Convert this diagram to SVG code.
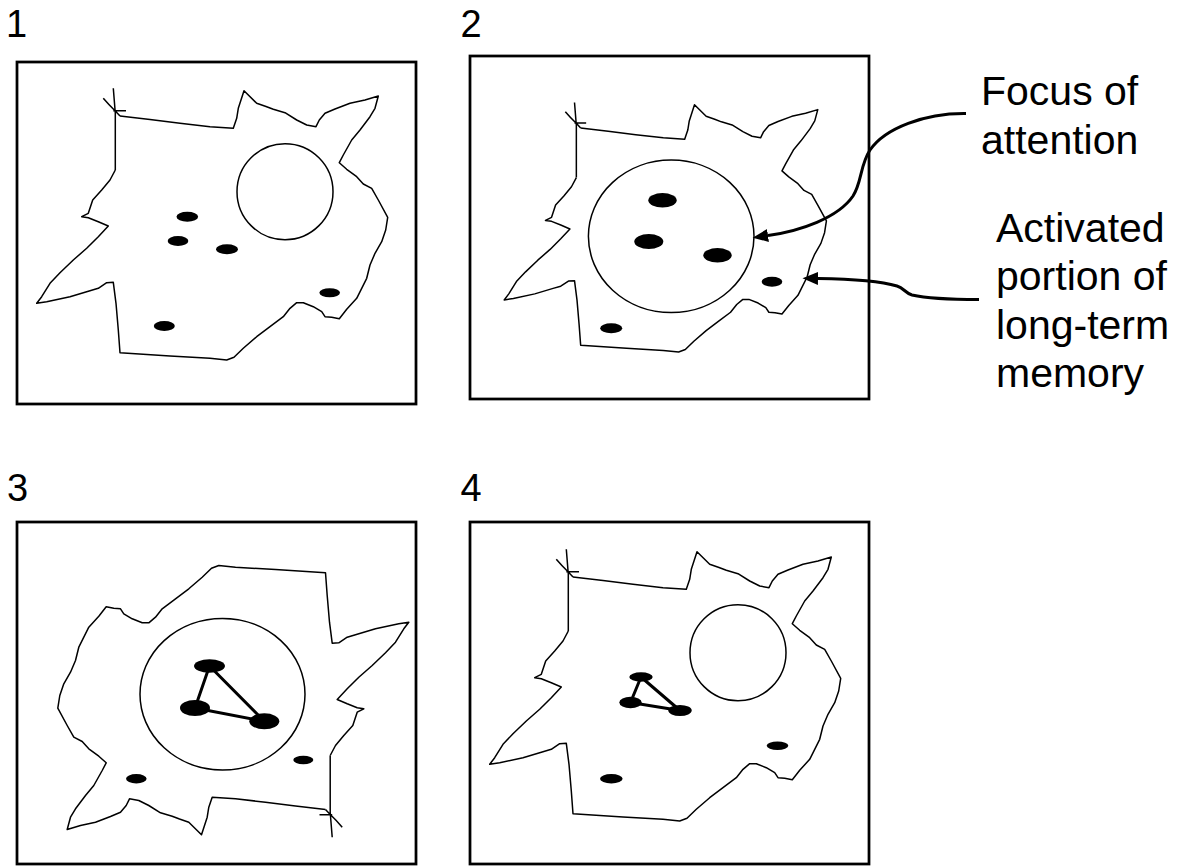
<svg xmlns="http://www.w3.org/2000/svg" xmlns:xlink="http://www.w3.org/1999/xlink" width="1185" height="866" viewBox="0 0 1185 866">
  <style>
    .frame { fill: none; stroke: #000; stroke-width: 2.75; }
    .lobe { fill: none; stroke: #000; stroke-width: 1.5; stroke-linejoin: round; vector-effect: non-scaling-stroke; }
    .focus { fill: none; stroke: #000; stroke-width: 1.5; }
    .item { fill: #000; stroke: none; }
    .link { stroke: #000; stroke-width: 3; stroke-linecap: round; }
    .num { font-family: "Liberation Sans", Arial, sans-serif; font-size: 38px; fill: #000; }
    .label { font-family: "Liberation Sans", Arial, sans-serif; font-size: 41px; fill: #000; }
    .pointer { fill: none; stroke: #000; stroke-width: 3; }
  </style>
  <defs>
    <!-- arrowhead: base sits at the path end, tip points forward -->
    <marker id="arrowhead" markerUnits="userSpaceOnUse" markerWidth="16" markerHeight="14" viewBox="0 0 16 14" refX="0" refY="7" orient="auto">
      <path d="M0,0.5 L15.5,7 L0,13.5 Z" fill="#000"/>
    </marker>
    <!-- irregular outline of the activated region of long-term memory, with its crossed corner stroke -->
    <g id="memory-region">
      <path class="lobe" d="M113.3,88.3 L115.3,113.3 L115.3,170
        M103.3,98.3 Q108.5,104.5 116,111.7 L120,116
        M113.3,110.7 L126,110.7"/>
      <path class="lobe" d="M120,116 L150,119.5 L180,123.3 L210,126.7 L233.3,128.3 L236.7,118.3 L238.3,108.3 L244,90.7
        L256.7,103.3 L266,106.5 L273.3,109.3 L285,112.7 L296.7,120 L306.7,125 L316,126.7 L319.3,120 L325,113.3 L335,109
        L350,103.3 L365,100 L378.3,96 L375,108.3 L370,116.7 L360,130 L351.7,140 L343.3,155 L339.3,162.7 L346.7,169.3
        L356.7,176.7 L363.3,184 L371.7,188.3 L378.3,200 L387.7,217.3 L385.7,230 L381.7,241.7 L375,253.3 L370,265
        L366.7,278.3 L361.7,288.3 L356.7,298.3 L346.7,309.3 L339.3,318.7 L331.7,317.3 L325,316.7 L321.7,311.7 L313.3,306.7
        L303.3,302.7 L296.7,302.7 L290,308.3 L283.3,316.7 L270,326.7 L256.7,336.7 L243.3,348.3 L234,357.3 L226.7,360
        L210,358.3 L170,356 L120,352.7 L118.3,330 L116,303.3 L113.3,282.3 L106.7,282.7 L98.3,288.3 L90,290.7 L70,296.7
        L46.7,301.7 L36.7,303.3 L41.7,296.7 L50,283.3 L60,272.7 L73.3,260 L86.7,248.3 L98.3,236.7 L108.3,226 L98.3,221.7
        L88.3,217.7 L81.7,216.7 L88.3,213.3 L92.7,200 L101.7,190 L110,180 L115.3,170"/>
    </g>
  </defs>

  <!-- step 1 -->
  <g id="panel-1">
    <text class="num" x="6" y="36.5">1</text>
    <rect class="frame" x="17" y="62" width="399" height="342"/>
    <use xlink:href="#memory-region" href="#memory-region"/>
    <circle class="focus" cx="285" cy="191.7" r="48"/>
    <ellipse class="item" cx="187.3" cy="216.7" rx="10.8" ry="5"/>
    <ellipse class="item" cx="178" cy="241" rx="10.3" ry="5"/>
    <ellipse class="item" cx="227" cy="249.3" rx="11" ry="5"/>
    <ellipse class="item" cx="329.7" cy="292.7" rx="10.3" ry="4.5"/>
    <ellipse class="item" cx="164.3" cy="326" rx="10.5" ry="5"/>
  </g>

  <!-- step 2 -->
  <g id="panel-2">
    <text class="num" x="460.5" y="36.5">2</text>
    <rect class="frame" x="470" y="56" width="399" height="343"/>
    <use xlink:href="#memory-region" href="#memory-region" transform="translate(470.5,21.5) scale(0.918)"/>
    <ellipse class="focus" cx="671.2" cy="236.3" rx="82.8" ry="76.3"/>
    <ellipse class="item" cx="662.5" cy="200.3" rx="14.2" ry="7.2"/>
    <ellipse class="item" cx="648.8" cy="241.5" rx="14.5" ry="7.5"/>
    <ellipse class="item" cx="717.5" cy="255.3" rx="14.2" ry="7.2"/>
    <ellipse class="item" cx="772" cy="281.7" rx="10.3" ry="5"/>
    <ellipse class="item" cx="611.2" cy="328.3" rx="11" ry="5"/>
  </g>

  <!-- step 3 -->
  <g id="panel-3">
    <text class="num" x="7" y="501">3</text>
    <rect class="frame" x="17" y="522" width="399" height="342"/>
    <use xlink:href="#memory-region" href="#memory-region" transform="rotate(180 222.75 462.75)"/>
    <ellipse class="focus" cx="222.5" cy="694.2" rx="82.5" ry="75.8"/>
    <line class="link" x1="209.5" y1="666" x2="195" y2="708"/>
    <line class="link" x1="209.5" y1="666" x2="264.3" y2="721.3"/>
    <line class="link" x1="195" y1="708" x2="264.3" y2="721.3"/>
    <ellipse class="item" cx="209.5" cy="666" rx="15.5" ry="6.8"/>
    <ellipse class="item" cx="195" cy="708" rx="15" ry="8"/>
    <ellipse class="item" cx="264.3" cy="721.3" rx="15" ry="8"/>
    <ellipse class="item" cx="303.3" cy="760" rx="10" ry="4.2"/>
    <ellipse class="item" cx="136.3" cy="778.7" rx="10.3" ry="4.7"/>
  </g>

  <!-- step 4 -->
  <g id="panel-4">
    <text class="num" x="460.5" y="501">4</text>
    <rect class="frame" x="470" y="522" width="399" height="342"/>
    <use xlink:href="#memory-region" href="#memory-region" transform="translate(453,461)"/>
    <circle class="focus" cx="738" cy="652.7" r="48"/>
    <line class="link" x1="641" y1="677" x2="630.5" y2="702.5"/>
    <line class="link" x1="641" y1="677" x2="680" y2="710.5"/>
    <line class="link" x1="630.5" y1="702.5" x2="680" y2="710.5"/>
    <ellipse class="item" cx="641" cy="677" rx="11.7" ry="4.7"/>
    <ellipse class="item" cx="630.5" cy="702.5" rx="11.2" ry="5.8"/>
    <ellipse class="item" cx="680" cy="710.5" rx="11.7" ry="5.5"/>
    <ellipse class="item" cx="777.5" cy="745.8" rx="10.8" ry="4.2"/>
    <ellipse class="item" cx="611.3" cy="778.7" rx="11.3" ry="4.7"/>
  </g>

  <!-- callout labels -->
  <g id="label-focus">
    <text class="label" x="981" y="105">Focus of</text>
    <text class="label" x="981" y="153.5">attention</text>
  </g>
  <g id="label-activated">
    <text class="label" x="996" y="241.5">Activated</text>
    <text class="label" x="996" y="290">portion of</text>
    <text class="label" x="996" y="338.5">long-term</text>
    <text class="label" x="996" y="387">memory</text>
  </g>

  <!-- pointers from labels into panel 2 -->
  <g id="connectors">
    <path class="pointer" marker-end="url(#arrowhead)" d="M966,113.5 C925,113 885,128 870,150 C860,165 862,182 853,196 C838,218 800,231 768,235.5"/>
    <path class="pointer" marker-end="url(#arrowhead)" d="M979,299.5 C955,299.5 925,298 912,295 C905,293 904,288 897,286 C880,281 850,279 818,278.5"/>
  </g>
</svg>
